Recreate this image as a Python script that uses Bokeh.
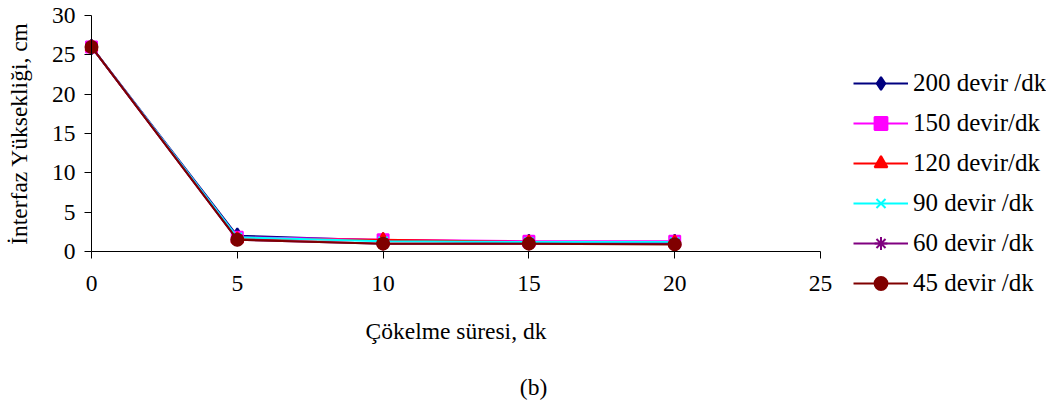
from bokeh.plotting import figure
from bokeh.models import Range1d, Legend, LegendItem, Label, FixedTicker
from bokeh.embed import file_html
from bokeh.resources import INLINE

# Settling time (min) and interface height (cm) for each stirring speed
times = [0, 5, 10, 15, 20]
h_200 = [26.0, 2.0, 1.4, 1.2, 1.2]
h_150 = [26.0, 1.8, 1.5, 1.3, 1.3]
h_120 = [26.0, 1.6, 1.5, 1.2, 1.2]
h_90 = [26.0, 1.8, 1.3, 1.2, 1.2]
h_60 = [26.0, 1.5, 1.0, 1.0, 1.0]
h_45 = [26.0, 1.5, 1.0, 1.0, 0.9]

series_labels = ["200 devir /dk", "150 devir/dk", "120 devir/dk",
                 "90 devir /dk", "60 devir /dk", "45 devir /dk"]
x_ticks = [0, 5, 10, 15, 20, 25]
y_ticks = [0, 5, 10, 15, 20, 25, 30]

FONT = "Liberation Serif"
FS = "23.5px"
LEGEND_FS = "25px"

# The frame spans the whole canvas; the axes are pinned at x=0 / y=0 and
# limited with bounds, so the legend and captions sit inside the frame.
W, H = 1046, 403
X0_PX, X25_PX = 91, 820
Y0_PX, Y30_PX = 251, 15
sx = (X25_PX - X0_PX) / 25.0
sy = (Y0_PX - Y30_PX) / 30.0

p = figure(width=W, height=H, output_backend="svg", toolbar_location=None,
           x_range=Range1d(-X0_PX / sx, (W - X0_PX) / sx),
           y_range=Range1d(-(H - Y0_PX) / sy, 30 + Y30_PX / sy),
           min_border=0)
p.outline_line_color = None
p.xgrid.visible = False
p.ygrid.visible = False
p.background_fill_color = "white"
p.border_fill_color = "white"

styles = [
    (h_200, "#000080", "diamond", 15),
    (h_150, "#FF00FF", "square", 11),
    (h_120, "#FF0000", "triangle", 12),
    (h_90, "#00FFFF", "x", 13),
    (h_60, "#800080", "asterisk", 13),
    (h_45, "#800000", "circle", 12),
]

items = []
for (vals, color, marker, size), label in zip(styles, series_labels):
    ln = p.line(times, vals, line_color=color, line_width=2)
    sc = p.scatter(times, vals, marker=marker, size=size,
                   fill_color=color, line_color=color, line_width=2)
    items.append(LegendItem(label=label, renderers=[ln, sc]))

legend = Legend(items=items, location=(853, 104), orientation="vertical",
                padding=0, margin=0, spacing=8, glyph_width=55, glyph_height=32,
                label_height=32, label_standoff=5,
                border_line_color=None, background_fill_alpha=0,
                label_text_font=FONT, label_text_font_size=LEGEND_FS,
                label_text_color="black")
p.add_layout(legend, "center")

for ax in (p.xaxis[0], p.yaxis[0]):
    ax.fixed_location = 0
    ax.axis_line_color = "black"
    ax.major_tick_line_color = "black"
    ax.minor_tick_line_color = None
    ax.major_tick_in = 0
    ax.major_tick_out = 7
    ax.major_label_text_font = FONT
    ax.major_label_text_font_size = FS
    ax.major_label_text_color = "black"

p.xaxis.ticker = FixedTicker(ticks=x_ticks)
p.yaxis.ticker = FixedTicker(ticks=y_ticks)
p.xaxis.bounds = (0, 25)
p.yaxis.bounds = (0, 30)
p.xaxis.major_label_standoff = 17
p.yaxis.major_label_standoff = 9

caption_style = dict(text_font=FONT, text_font_size=FS, text_color="black",
                     text_align="center", text_baseline="middle")
p.add_layout(Label(x=12.5, y=(Y0_PX - 330) / sy, text="Çökelme süresi, dk",
                   **caption_style))
p.add_layout(Label(x=(18 - X0_PX) / sx, y=15, angle=90, angle_units="deg",
                   text="İnterfaz Yüksekliği, cm", **caption_style))
p.add_layout(Label(x=(533 - X0_PX) / sx, y=(Y0_PX - 386) / sy, text="(b)",
                   **caption_style))

open("out.html", "w").write(file_html(p, INLINE))
